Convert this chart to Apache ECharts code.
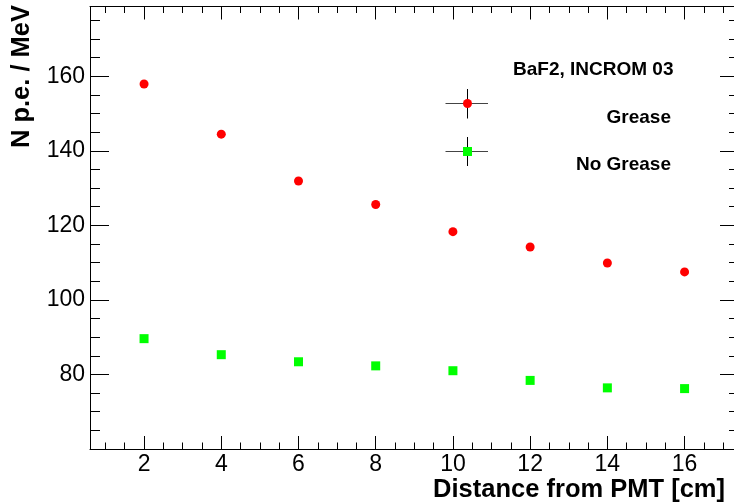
<!DOCTYPE html>
<html>
<head>
<meta charset="utf-8">
<script src="https://cdn.jsdelivr.net/npm/echarts@6/dist/echarts.min.js"></script>
<style>
  html, body { margin: 0; padding: 0; background: #fff; }
  #chart-container { width: 734px; height: 504px; }
</style>
</head>
<body>
<div id="chart-container"></div>
<script>
// values
const distance = [2, 4, 6, 8, 10, 12, 14, 16];
const greaseValues = [157.9, 144.45, 131.9, 125.6, 118.3, 114.2, 109.9, 107.5];
const noGreaseValues = [89.6, 85.3, 83.4, 82.3, 81.0, 78.4, 76.4, 76.2];
const xMajorTicks = [2, 4, 6, 8, 10, 12, 14, 16];
const yMajorTicks = [80, 100, 120, 140, 160];

// the frame's right side falls just outside the picture
const xMin = 0.6, xMax = 17.28;
const yMin = 60, yMax = 178.7;
const font = 'Liberation Sans';

// minor ticks, ROOT style
let xMinorTicks = [];
for (let v = 1; v <= 17; v += 0.5) {
    if (xMajorTicks.indexOf(v) < 0) xMinorTicks.push(v);
}
let yMinorTicks = [];
for (let v = 65; v <= 175; v += 5) {
    if (yMajorTicks.indexOf(v) < 0) yMinorTicks.push(v);
}

const toPairs = (xs, ys) => xs.map((x, i) => [x, ys[i]]);

const xAxisDef = (position, ticks, len, withLabels, withLine) => ({
    type: 'value', gridIndex: 0, position: position,
    min: xMin, max: xMax,
    axisLine: { show: withLine, lineStyle: { color: '#000', width: 1 } },
    axisTick: { show: true, inside: true, length: len, customValues: ticks, lineStyle: { color: '#000' } },
    axisLabel: withLabels
        ? { show: true, customValues: ticks, fontFamily: font, fontSize: 23, color: '#000', margin: 4 }
        : { show: false },
    splitLine: { show: false }
});

const yAxisDef = (position, ticks, len, withLabels, withLine) => ({
    type: 'value', gridIndex: 0, position: position,
    min: yMin, max: yMax,
    axisLine: { show: withLine, lineStyle: { color: '#000', width: 1 } },
    axisTick: { show: true, inside: true, length: len, customValues: ticks, lineStyle: { color: '#000' } },
    axisLabel: withLabels
        ? { show: true, customValues: ticks, fontFamily: font, fontSize: 23, color: '#000', margin: 5 }
        : { show: false },
    splitLine: { show: false }
});

var dom = document.getElementById('chart-container');
var myChart = echarts.init(dom, null, { renderer: 'canvas' });

var option = {
    animation: false,
    backgroundColor: '#fff',
    grid: { left: 90, top: 6.5, right: 0, height: 442.5, containLabel: false },
    xAxis: [
        xAxisDef('bottom', xMajorTicks, 13, true, true),
        xAxisDef('bottom', xMinorTicks, 6.5, false, false),
        xAxisDef('top', xMajorTicks, 13, false, true),
        xAxisDef('top', xMinorTicks, 6.5, false, false)
    ],
    yAxis: [
        yAxisDef('left', yMajorTicks, 19, true, true),
        yAxisDef('left', yMinorTicks, 10, false, false),
        yAxisDef('right', yMajorTicks, 14, false, false),
        yAxisDef('right', yMinorTicks, 5, false, false)
    ],
    series: [
        {
            name: 'Grease', type: 'scatter', xAxisIndex: 0, yAxisIndex: 0,
            symbol: 'circle', symbolSize: 9,
            itemStyle: { color: '#ff0000', opacity: 1 },
            data: toPairs(distance, greaseValues)
        },
        {
            name: 'No Grease', type: 'scatter', xAxisIndex: 0, yAxisIndex: 0,
            symbol: 'rect', symbolSize: 9,
            itemStyle: { color: '#00ff00', opacity: 1 },
            data: toPairs(distance, noGreaseValues)
        }
    ],
    graphic: [
        // axis titles
        {
            type: 'text', x: 725, y: 490,
            style: { text: 'Distance from PMT [cm]', font: 'bold 25.5px ' + font, fill: '#000', align: 'right', verticalAlign: 'middle' }
        },
        {
            type: 'text', x: 22, y: 5, rotation: Math.PI / 2,
            style: { text: 'N p.e. / MeV', font: 'bold 25.5px ' + font, fill: '#000', align: 'right', verticalAlign: 'middle' }
        },
        // legend
        {
            type: 'text', x: 513, y: 69.5,
            style: { text: 'BaF2, INCROM 03', font: 'bold 19px ' + font, fill: '#000', align: 'left', verticalAlign: 'middle' }
        },
        { type: 'line', shape: { x1: 445.5, y1: 103.5, x2: 488, y2: 103.5 }, style: { stroke: '#444', lineWidth: 1 } },
        { type: 'line', shape: { x1: 467.5, y1: 89, x2: 467.5, y2: 118.5 }, style: { stroke: '#000', lineWidth: 1 } },
        { type: 'circle', shape: { cx: 467.5, cy: 103.5, r: 4.5 }, style: { fill: '#ff0000' } },
        {
            type: 'text', x: 671, y: 117.5,
            style: { text: 'Grease', font: 'bold 19px ' + font, fill: '#000', align: 'right', verticalAlign: 'middle' }
        },
        { type: 'line', shape: { x1: 445.5, y1: 151.5, x2: 488, y2: 151.5 }, style: { stroke: '#444', lineWidth: 1 } },
        { type: 'line', shape: { x1: 467.5, y1: 137, x2: 467.5, y2: 166 }, style: { stroke: '#000', lineWidth: 1 } },
        { type: 'rect', shape: { x: 463, y: 147, width: 9, height: 9 }, style: { fill: '#00ff00' } },
        {
            type: 'text', x: 671, y: 165,
            style: { text: 'No Grease', font: 'bold 19px ' + font, fill: '#000', align: 'right', verticalAlign: 'middle' }
        }
    ]
};

if (option && typeof option === 'object') {
    myChart.setOption(option);
}
window.addEventListener('resize', myChart.resize);
</script>
</body>
</html>
